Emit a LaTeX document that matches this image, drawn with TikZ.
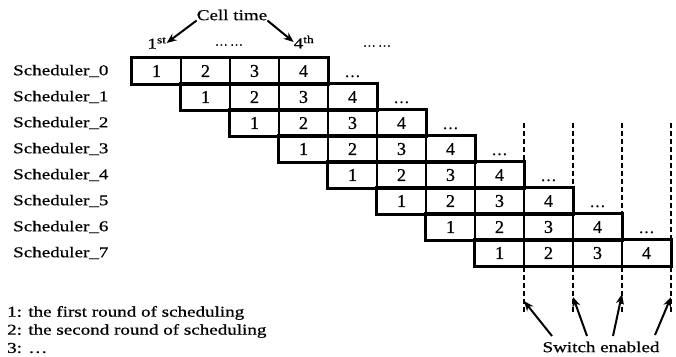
\documentclass[tikz,border=0pt]{standalone}
\usepackage{fontspec}
\setmainfont[FakeStretch=1.27,FakeBold=0.6]{Liberation Serif}
\newfontfamily\numfont[FakeBold=0.8]{Liberation Serif}
\usetikzlibrary{arrows.meta}
\begin{document}
\begin{tikzpicture}[x=1pt,y=-1pt,
  cell/.style={draw,line width=1.6pt,minimum width=49pt,minimum height=26pt,inner sep=0pt,
    font={\numfont\fontsize{18}{18}\selectfont}},
  rowbox/.style={draw,line width=2.2pt},
  lab/.style={font={\fontsize{15}{15}\selectfont},inner sep=0pt},
  dotsn/.style={font={\numfont\fontsize{16}{16}\selectfont},inner sep=0pt,anchor=base},
  topdots/.style={font={\numfont\fontsize{13}{13}\selectfont},inner sep=0pt},
  swline/.style={line width=2pt,dash pattern=on 5pt off 3pt},
  arr/.style={line width=2pt,-{Stealth[length=10pt,width=8pt]}}]
\useasboundingbox (0,0) rectangle (676,356);
% dashed "switch enabled" lines
\foreach \i in {1,...,4}{
  \coordinate (d\i t) at ({524+49*(\i-1)},123);
  \coordinate (d\i b) at ({524+49*(\i-1)},312);
  \draw[swline] (d\i t) -- (d\i b);
}
% scheduler rows
\foreach \k in {0,...,7}{
  \node[lab,anchor=west] (s\k) at (13,{58+26*\k+13}) {Scheduler\_\k};
  \foreach \j in {0,...,3}{
    \pgfmathtruncatemacro\n{\j+1}
    \node[cell] (c\k\j) at ({132+49*(\k+\j)+24.5},{58+26*\k+13}) {\n};
  }
  \draw[rowbox] (c\k0.north west) rectangle (c\k3.south east);
}
\foreach \k in {0,...,6}{
  \node[dotsn] (e\k) at ({132+49*(\k+4)+24.5},{58+26*\k+19}) {\dots};
}
% cell time
\node[lab] (ct) at (232,15) {Cell time};
\node[lab] (first) at (157,43) {1\textsuperscript{st}};
\node[lab] (fourth) at (304,42) {4\textsuperscript{th}};
\node[topdots] (td1) at (229,45) {\dots\,\dots};
\node[topdots] (td2) at (377,46) {\dots\,\dots};
\draw[arr] (ct.south west) -- (first.east);
\draw[arr] (ct.south east) -- (fourth.west);
% switch enabled
\node[lab] (sw) at (601,347) {Switch enabled};
\coordinate (a1) at (524,301);
\coordinate (a2) at (573,297);
\coordinate (a3) at (622,294);
\coordinate (a4) at (671,297);
\coordinate (t1) at (552,336);
\coordinate (t2) at (587,336);
\coordinate (t3) at (613,336);
\coordinate (t4) at (655,335);
\foreach \i in {1,...,4}{\draw[arr] (t\i) -- (a\i);}
% legend
\node[lab,anchor=west] (l1) at (7,313) {1: the first round of scheduling};
\node[lab,anchor=west] (l2) at (7,331) {2: the second round of scheduling};
\node[lab,anchor=west] (l3) at (7,348) {3: \dots};
\end{tikzpicture}
\end{document}
